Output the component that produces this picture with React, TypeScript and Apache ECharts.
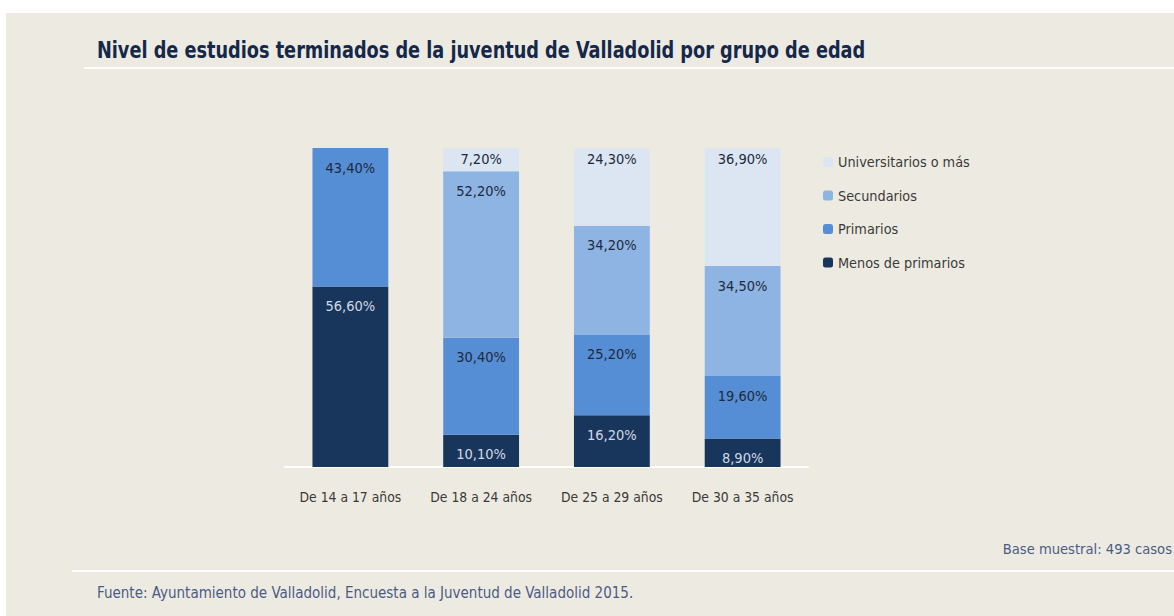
import React, { useEffect, useRef } from "react";
import * as echarts from "echarts";

const categories = ["De 14 a 17 años", "De 18 a 24 años", "De 25 a 29 años", "De 30 a 35 años"];
const menosPrimarios = [56.6, 10.1, 16.2, 8.9];
const primarios = [43.4, 30.4, 25.2, 19.6];
const secundarios = [null, 52.2, 34.2, 34.5];
const universitarios = [null, 7.2, 24.3, 36.9];
const legendOrder = ["Universitarios o más", "Secundarios", "Primarios", "Menos de primarios"];

const FONT = "'Liberation Sans Narrow', 'DejaVu Sans Condensed', 'Roboto Condensed', sans-serif";
const fmt = (v: number) => v.toFixed(2).replace(".", ",") + "%";

export default function App() {
  const ref = useRef<HTMLDivElement>(null);
  useEffect(() => {
    document.body.style.margin = "0";
    const chart = echarts.init(ref.current!, null, { renderer: "svg" });
    const mk = (name: string, data: (number | null)[], color: string, labelColor: string, dist: number) => ({
      name,
      type: "bar",
      stack: "total",
      data,
      barWidth: "58%",
      itemStyle: { color },
      label: {
        show: true,
        position: "insideTop",
        distance: dist,
        color: labelColor,
        fontFamily: FONT,
        fontSize: 14.5,
        formatter: (p: any) => (p.value == null ? "" : fmt(p.value)),
      },
    });
    chart.setOption({
      animation: false,
      backgroundColor: "#ffffff",
      textStyle: { fontFamily: FONT },
      graphic: [
        { type: "rect", z: -10, shape: { x: 6, y: 13, width: 1168, height: 603 }, style: { fill: "#edebe1" } },
        { type: "line", shape: { x1: 84, y1: 68, x2: 1174, y2: 68 }, style: { stroke: "#ffffff", lineWidth: 2 } },
        { type: "line", shape: { x1: 72, y1: 571, x2: 1174, y2: 571 }, style: { stroke: "#ffffff", lineWidth: 2 } },
        {
          type: "text", x: 97, y: 50, scaleX: 0.856,
          style: { text: "Nivel de estudios terminados de la juventud de Valladolid por grupo de edad", fill: "#15284a", font: `bold 23px ${FONT}`, verticalAlign: "middle" },
        },
        {
          type: "text", x: 1172, y: 548,
          style: { text: "Base muestral: 493 casos", fill: "#4b5b85", font: `14.6px ${FONT}`, align: "right", verticalAlign: "middle" },
        },
        {
          type: "text", x: 97, y: 593,
          style: { text: "Fuente: Ayuntamiento de Valladolid, Encuesta a la Juventud de Valladolid 2015.", fill: "#4b5b85", font: `15px ${FONT}`, verticalAlign: "middle" },
        },
      ],
      legend: {
        orient: "vertical",
        left: 818,
        top: 150,
        itemWidth: 10,
        itemHeight: 10,
        itemGap: 19.5,
        data: legendOrder,
        textStyle: { color: "#3a3a3a", fontSize: 14.3, fontFamily: FONT },
      },
      grid: { left: 285, right: 366, top: 148, bottom: 149 },
      xAxis: {
        type: "category",
        data: categories,
        axisLine: { lineStyle: { color: "#ffffff", width: 2 } },
        axisTick: { show: false },
        axisLabel: { color: "#3a3a3a", fontSize: 13.8, margin: 23, interval: 0, fontFamily: FONT },
      },
      yAxis: { type: "value", min: 0, max: 100, show: false, splitLine: { show: false } },
      series: [
        mk("Menos de primarios", menosPrimarios, "#18355c", "#d3d9e3", 12),
        mk("Primarios", primarios, "#558ed5", "#1e2a3c", 12),
        mk("Secundarios", secundarios, "#8eb4e3", "#1e2a3c", 12),
        mk("Universitarios o más", universitarios, "#dce6f2", "#1e2a3c", 3),
      ],
    });
    return () => chart.dispose();
  }, []);
  return <div ref={ref} style={{ width: 1174, height: 616 }} />;
}
